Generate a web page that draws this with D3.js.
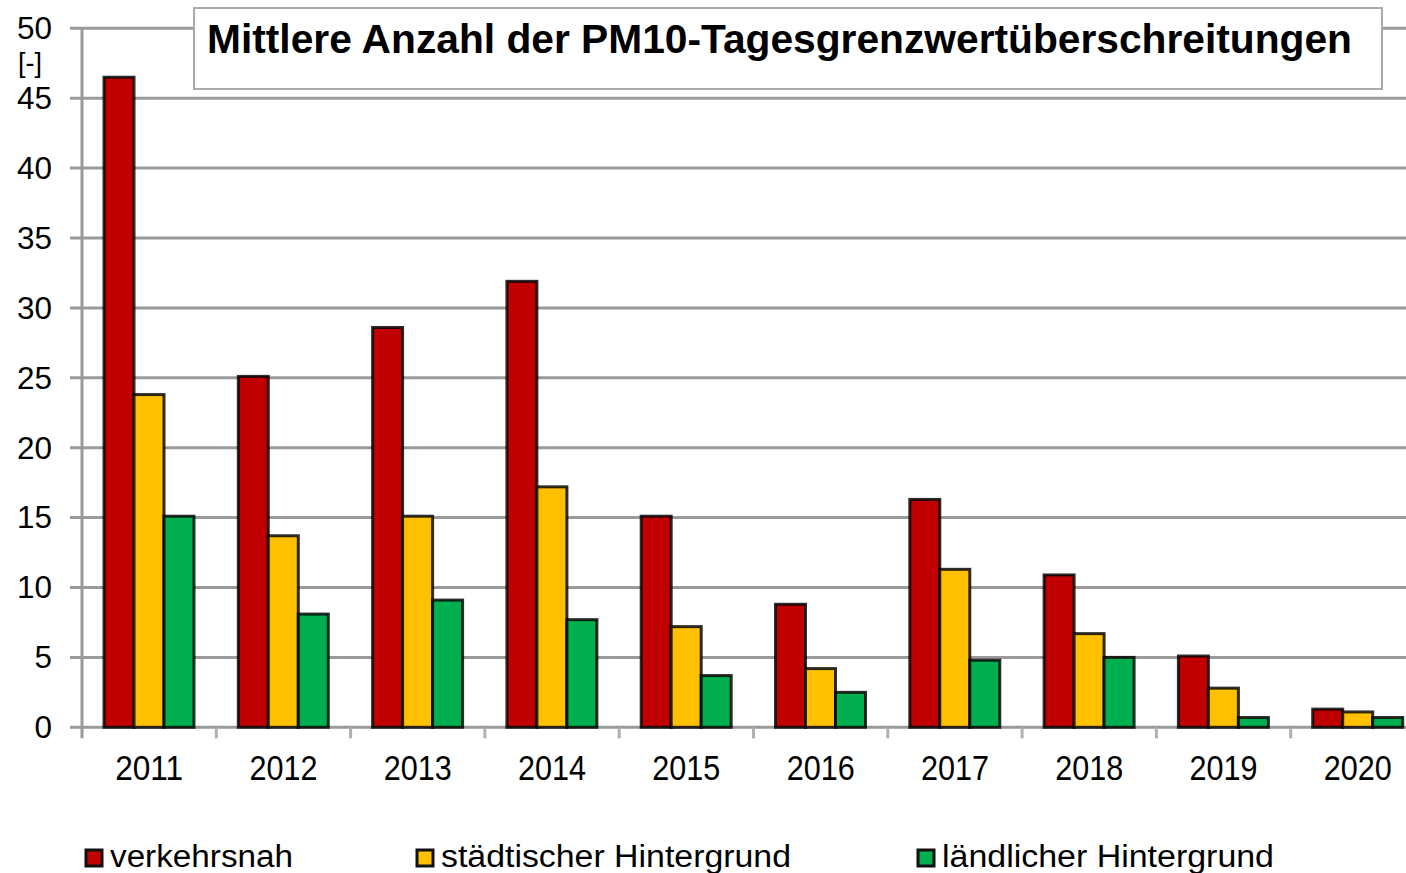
<!DOCTYPE html>
<html>
<head>
<meta charset="utf-8">
<script src="https://cdn.jsdelivr.net/npm/d3@7"></script>
<style>
  html, body { margin: 0; padding: 0; background: #fff; overflow: hidden; }
  svg { display: block; font-family: "Liberation Sans", Arial, sans-serif; }
</style>
</head>
<body>
<svg id="chart" width="1406" height="873"></svg>
<script>
const years = ['2011', '2012', '2013', '2014', '2015', '2016', '2017', '2018', '2019', '2020'];
const verkehrsnah = [46.5, 25.1, 28.6, 31.9, 15.1, 8.8, 16.3, 10.9, 5.1, 1.3];
const staedtisch = [23.8, 13.7, 15.1, 17.2, 7.2, 4.2, 11.3, 6.7, 2.8, 1.1];
const laendlich = [15.1, 8.1, 9.1, 7.7, 3.7, 2.5, 4.8, 5.0, 0.7, 0.7];
const seriesNames = ['verkehrsnah', 'städtischer Hintergrund', 'ländlicher Hintergrund'];
const seriesColors = ['#c00000', '#ffc000', '#00b050'];
const yTicks = [0, 5, 10, 15, 20, 25, 30, 35, 40, 45, 50];
const title = 'Mittlere Anzahl der PM10-Tagesgrenzwertüberschreitungen';

const series = [verkehrsnah, staedtisch, laendlich];

const svg = d3.select('#chart');
const left = 82;
const groupW = 134.3;

const x = d3.scaleBand()
    .domain(years)
    .range([left, left + groupW * years.length]);

const xInner = d3.scaleBand()
    .domain(d3.range(series.length))
    .range([22, 112]);

const y = d3.scaleLinear()
    .domain([0, 50])
    .range([727.3, 28.3]);

// GRID
svg.append('g')
    .selectAll('line')
    .data(yTicks)
    .join('line')
    .attr('x1', 70)
    .attr('x2', 1406)
    .attr('y1', d => y(d))
    .attr('y2', d => y(d))
    .attr('stroke', '#9a9a9a')
    .attr('stroke-width', 3);

// y axis line
svg.append('line')
    .attr('x1', left).attr('x2', left)
    .attr('y1', y(50)).attr('y2', y(0) + 11)
    .attr('stroke', '#9a9a9a')
    .attr('stroke-width', 3);

// x ticks between groups
svg.append('g')
    .selectAll('line')
    .data(years.slice(1))
    .join('line')
    .attr('x1', d => x(d))
    .attr('x2', d => x(d))
    .attr('y1', y(0))
    .attr('y2', y(0) + 11)
    .attr('stroke', '#b0b0b0')
    .attr('stroke-width', 3);

// y tick labels
svg.append('g')
    .selectAll('text')
    .data(yTicks)
    .join('text')
    .attr('x', 52)
    .attr('y', d => y(d))
    .attr('dy', '0.35em')
    .attr('text-anchor', 'end')
    .attr('font-size', 31)
    .attr('textLength', d => String(d).length * 17.5)
    .attr('lengthAdjust', 'spacingAndGlyphs')
    .attr('fill', '#000')
    .text(d => d);

svg.append('text')
    .attr('x', 18)
    .attr('y', 72)
    .attr('font-size', 28)
    .attr('textLength', 24)
    .attr('lengthAdjust', 'spacingAndGlyphs')
    .text('[-]');

// BARS
const groups = svg.append('g')
    .selectAll('g')
    .data(years)
    .join('g')
    .attr('transform', d => `translate(${x(d)},0)`);

groups.selectAll('rect')
    .data((d, i) => series.map((s, k) => ({ k, v: s[i] })))
    .join('rect')
    .attr('x', d => xInner(d.k))
    .attr('width', xInner.bandwidth())
    .attr('y', d => y(d.v))
    .attr('height', d => y(0) - y(d.v))
    .attr('fill', d => seriesColors[d.k])
    .attr('stroke', 'rgba(0,0,0,0.82)')
    .attr('stroke-width', 3);

// x labels
svg.append('g')
    .selectAll('text')
    .data(years)
    .join('text')
    .attr('x', d => x(d) + x.bandwidth() / 2)
    .attr('y', 780)
    .attr('text-anchor', 'middle')
    .attr('font-size', 34.5)
    .attr('textLength', 68)
    .attr('lengthAdjust', 'spacingAndGlyphs')
    .text(d => d);

// TITLE
svg.append('rect')
    .attr('x', 194).attr('y', 8)
    .attr('width', 1188).attr('height', 81)
    .attr('fill', '#fff')
    .attr('stroke', '#aaaaaa')
    .attr('stroke-width', 2);

svg.append('text')
    .attr('x', 207)
    .attr('y', 53)
    .attr('font-size', 40)
    .attr('font-weight', 'bold')
    .attr('textLength', 1145)
    .attr('lengthAdjust', 'spacingAndGlyphs')
    .text(title);

// LEGEND
const legendX = [85, 416, 917];
const legendW = [183, 350, 332];
const legend = svg.append('g')
    .selectAll('g')
    .data(seriesNames)
    .join('g')
    .attr('transform', (d, i) => `translate(${legendX[i]},0)`);

legend.append('rect')
    .attr('x', 1).attr('y', 850)
    .attr('width', 16).attr('height', 16)
    .attr('fill', (d, i) => seriesColors[i])
    .attr('stroke', '#111')
    .attr('stroke-width', 3);

legend.append('text')
    .attr('x', 25)
    .attr('y', 867)
    .attr('font-size', 31)
    .attr('textLength', (d, i) => legendW[i])
    .attr('lengthAdjust', 'spacingAndGlyphs')
    .text(d => d);
</script>
</body>
</html>
